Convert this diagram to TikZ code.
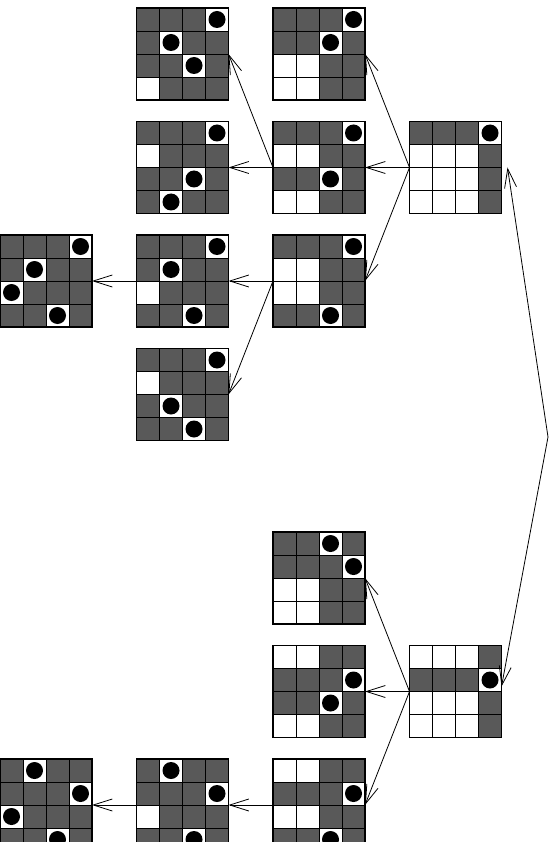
\documentclass[tikz,border=0pt]{standalone}
\usetikzlibrary{arrows.meta}
\definecolor{cellgray}{RGB}{89,89,89}
\tikzset{
  boardnode/.style={rectangle, minimum size=92pt, inner sep=0pt, outer sep=0pt},
  darkcell/.style={fill=cellgray, draw=black, line width=0.9pt},
  lightcell/.style={fill=white, draw=black, line width=0.9pt},
  boardframe/.style={draw=black, line width=1.1pt},
  move/.style={-{Straight Barb[length=19pt,width=12pt]}, line width=0.8pt},
  link/.style={{Straight Barb[length=19pt,width=12pt]}-{Straight Barb[length=19pt,width=12pt]}, line width=0.8pt},
}
\newcommand\qboard[4]{%
  \node[boardnode] (#1) at (#2+46,#3+46) {};
  \foreach \qc [count=\qi from 0] in {#4} {%
    \pgfmathtruncatemacro\qcol{mod(\qi,4)}%
    \pgfmathtruncatemacro\qrow{div(\qi,4)}%
    \if\qc D
      \draw[darkcell] (#2+23*\qcol,#3+23*\qrow) rectangle ++(23,23);
    \else
      \draw[lightcell] (#2+23*\qcol,#3+23*\qrow) rectangle ++(23,23);
    \fi
    \if\qc Q
      \fill[black] (#2+23*\qcol+11.5,#3+23*\qrow+11.5) circle (8.5pt);
    \fi
  }%
  \draw[boardframe] (#2,#3) rectangle ++(92,92);
}
\begin{document}
\begin{tikzpicture}[x=1pt,y=-1pt]
\useasboundingbox (0,0) rectangle (554,842);
\clip (0,0) rectangle (554,842);
\qboard{a1}{136.5}{8}{D,D,D,Q,D,Q,D,D,D,D,Q,D,W,D,D,D}
\qboard{a2}{273}{8}{D,D,D,Q,D,D,Q,D,W,W,D,D,W,W,D,D}
\qboard{b1}{136.5}{121.5}{D,D,D,Q,W,D,D,D,D,D,Q,D,D,Q,D,D}
\qboard{b2}{273}{121.5}{D,D,D,Q,W,W,D,D,D,D,Q,D,W,W,D,D}
\qboard{b3}{409.5}{121.5}{D,D,D,Q,W,W,W,D,W,W,W,D,W,W,W,D}
\qboard{c0}{0}{235}{D,D,D,Q,D,Q,D,D,Q,D,D,D,D,D,Q,D}
\qboard{c1}{136.5}{235}{D,D,D,Q,D,Q,D,D,W,D,D,D,D,D,Q,D}
\qboard{c2}{273}{235}{D,D,D,Q,W,W,D,D,W,W,D,D,D,D,Q,D}
\qboard{d1}{136.5}{348.5}{D,D,D,Q,W,D,D,D,D,Q,D,D,D,D,Q,D}
\qboard{e2}{273}{532}{D,D,Q,D,D,D,D,Q,W,W,D,D,W,W,D,D}
\qboard{f2}{273}{645.5}{W,W,D,D,D,D,D,Q,D,D,Q,D,W,W,D,D}
\qboard{f3}{409.5}{645.5}{W,W,W,D,D,D,D,Q,W,W,W,D,W,W,W,D}
\qboard{g0}{0}{759}{D,Q,D,D,D,D,D,Q,Q,D,D,D,D,D,Q,D}
\qboard{g1}{136.5}{759}{D,Q,D,D,D,D,D,Q,W,D,D,D,D,D,Q,D}
\qboard{g2}{273}{759}{W,W,D,D,D,D,D,Q,W,W,D,D,D,D,Q,D}
% moves
\draw[move] (b3.west) -- (a2.east);
\draw[move] (b3.west) -- (b2.east);
\draw[move] (b3.west) -- (c2.east);
\draw[move] (b2.west) -- (a1.east);
\draw[move] (b2.west) -- (b1.east);
\draw[move] (c2.west) -- (c1.east);
\draw[move] (c2.west) -- (d1.east);
\draw[move] (c1.west) -- (c0.east);
\draw[move] (f3.west) -- (e2.east);
\draw[move] (f3.west) -- (f2.east);
\draw[move] (f3.west) -- (g2.east);
\draw[move] (g2.west) -- (g1.east);
\draw[move] (g1.west) -- (g0.east);
\coordinate (bend) at (548,437);
\draw[link] ([yshift=5pt]f3.east) -- (bend) -- ([xshift=6pt]b3.east);
\end{tikzpicture}
\end{document}
